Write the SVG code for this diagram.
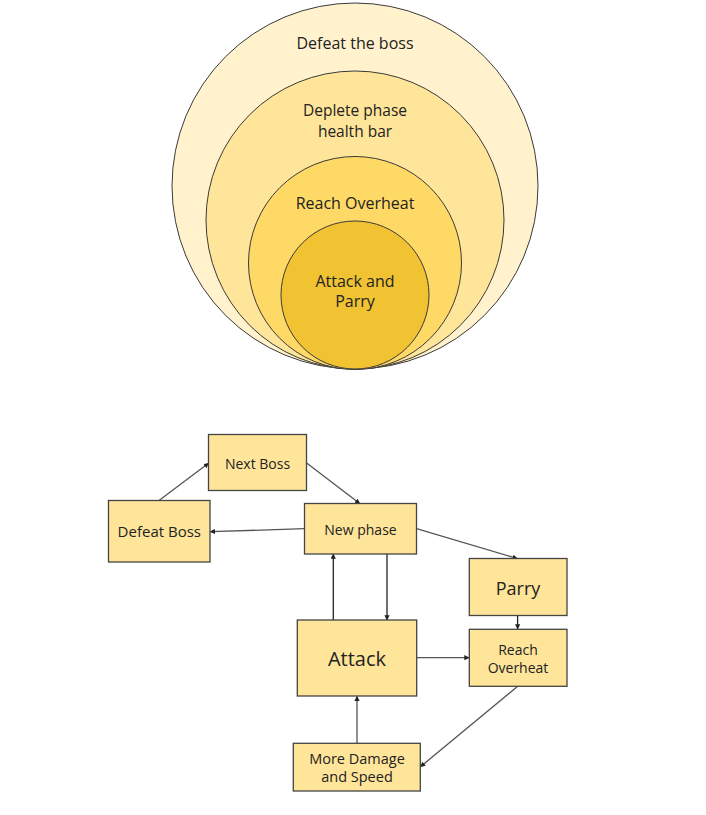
<svg xmlns="http://www.w3.org/2000/svg" width="706" height="815" viewBox="0 0 706 815">
<defs>
<style>
text{font-family:"Open Sans","Noto Sans",sans-serif;fill:#222;text-anchor:middle}
.c{stroke:#3a3a3a;stroke-width:1}
.box{fill:#ffe599;stroke:#444;stroke-width:1.3}
.e{fill:none;stroke:#555;stroke-width:1.3;marker-end:url(#ah)}
.k{stroke:#222}
</style>
<marker id="ah" viewBox="0 0 10 10" refX="9" refY="5" markerWidth="4" markerHeight="4" orient="auto" markerUnits="strokeWidth">
<path d="M0,0 L10,5 L0,10 z" fill="#222"/>
</marker>
</defs>
<rect width="706" height="815" fill="#fff"/>
<g id="circles">
<circle cx="355" cy="186" r="183" class="c" fill="#fff2cc"/>
<circle cx="355" cy="220" r="149" class="c" fill="#ffe599"/>
<circle cx="355" cy="263" r="106.5" class="c" fill="#ffd966"/>
<circle cx="355" cy="295" r="74" class="c" fill="#f1c232"/>
<text x="355" y="49" font-size="16">Defeat the boss</text>
<text x="355" y="116" font-size="15.5">Deplete phase</text>
<text x="355" y="136.5" font-size="15.5">health bar</text>
<text x="355" y="209" font-size="16">Reach Overheat</text>
<text x="355" y="287" font-size="16">Attack and</text>
<text x="355" y="307" font-size="16">Parry</text>
</g>
<g id="connectors">
<path class="e" d="M159.3,500.3 L208.5,463.3"/>
<path class="e" d="M306.3,462.7 L359.7,503.5"/>
<path class="e" d="M304.5,528.7 L210.3,531.7"/>
<path class="e" d="M416.5,528.7 L517.3,558.5"/>
<path class="e k" d="M387,554 L387,620"/>
<path class="e k" d="M333.3,620 L333.3,554"/>
<path class="e k" d="M517.6,615.7 L517.6,629"/>
<path class="e" d="M416.7,657.7 L469,657.7"/>
<path class="e" d="M517.7,686.3 L420.5,766.7"/>
<path class="e" d="M357,743 L357,696.3"/>
</g>
<g id="next-boss">
<rect class="box" x="208.5" y="434.5" width="98" height="56"/>
<text x="257.5" y="469" font-size="14">Next Boss</text>
</g>
<g id="defeat-boss">
<rect class="box" x="108.5" y="500.5" width="101.5" height="61.5"/>
<text x="159.3" y="537" font-size="15">Defeat Boss</text>
</g>
<g id="new-phase">
<rect class="box" x="304.5" y="503.5" width="112" height="50.5"/>
<text x="360.5" y="535" font-size="14">New phase</text>
</g>
<g id="parry">
<rect class="box" x="469.3" y="558.5" width="97.7" height="57"/>
<text x="518" y="594.5" font-size="18">Parry</text>
</g>
<g id="reach-overheat">
<rect class="box" x="469.3" y="629.3" width="97.7" height="57"/>
<text x="518" y="654.5" font-size="14">Reach</text>
<text x="518" y="672.5" font-size="14">Overheat</text>
</g>
<g id="attack">
<rect class="box" x="297.3" y="620" width="119.4" height="76"/>
<text x="357" y="665.5" font-size="20">Attack</text>
</g>
<g id="more-damage">
<rect class="box" x="293.3" y="743.3" width="127" height="47.7"/>
<text x="357" y="764" font-size="14.5">More Damage</text>
<text x="357" y="782" font-size="14.5">and Speed</text>
</g>
</svg>
